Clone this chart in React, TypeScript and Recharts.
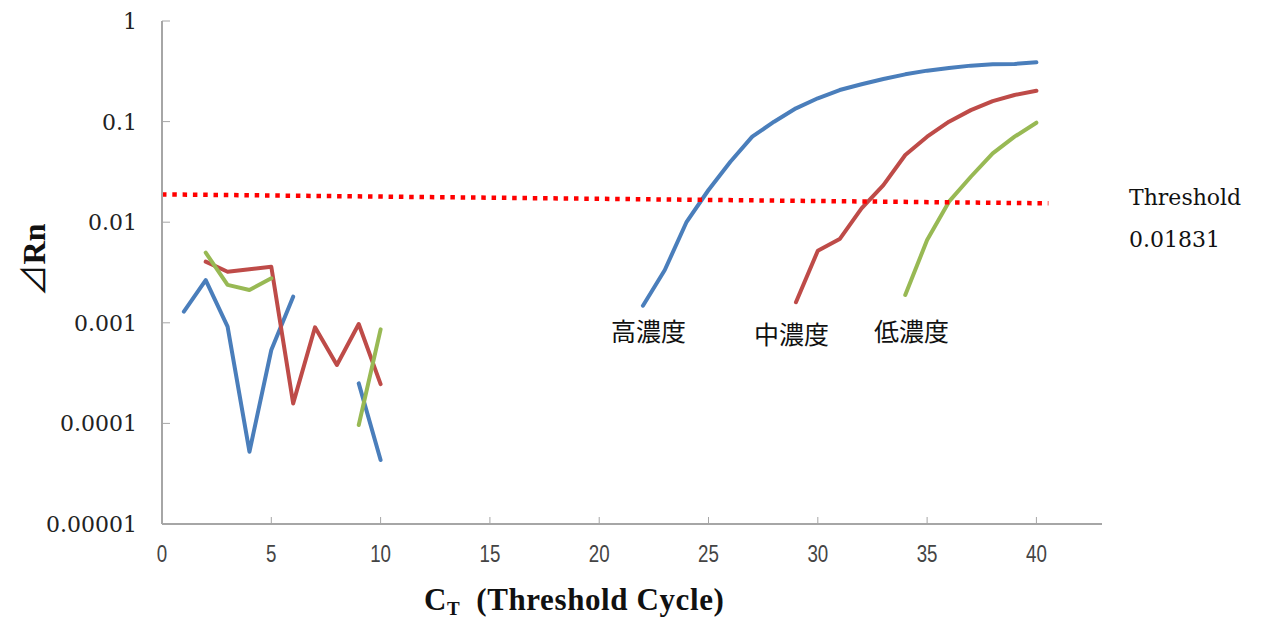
import React from 'react';
import { LineChart, Line, XAxis, YAxis } from 'recharts';

// PCR amplification curves (ΔRn, log scale) for three template concentrations
const cycles = [
    1, 2, 3, 4, 5, 6, 7, 8, 9, 10,
    11, 12, 13, 14, 15, 16, 17, 18, 19, 20,
    21, 22, 23, 24, 25, 26, 27, 28, 29, 30,
    31, 32, 33, 34, 35, 36, 37, 38, 39, 40,
];

const highConc: (number | null)[] = [
    0.00129, 0.00266, 0.000915, 0.0000523, 0.000537, 0.00182, null, null, 0.00025, 0.0000433,
    null, null, null, null, null, null, null, null, null, null,
    null, 0.00148, 0.00335, 0.0101, 0.0209, 0.0399, 0.0708, 0.0998, 0.1355, 0.1705,
    0.206, 0.235, 0.265, 0.295, 0.321, 0.341, 0.36, 0.371, 0.374, 0.388,
];

const midConc: (number | null)[] = [
    null, 0.00405, 0.00322, 0.0034, 0.00361, 0.000158, 0.000902, 0.000381, 0.000973, 0.000246,
    null, null, null, null, null, null, null, null, null, null,
    null, null, null, null, null, null, null, null, 0.0016, 0.0052,
    0.0068, 0.0137, 0.0234, 0.0466, 0.0708, 0.0998, 0.13, 0.16, 0.184, 0.203,
];

const lowConc: (number | null)[] = [
    null, 0.00498, 0.00238, 0.00212, 0.00277, null, null, null, 0.0000964, 0.000861,
    null, null, null, null, null, null, null, null, null, null,
    null, null, null, null, null, null, null, null, null, null,
    null, null, null, 0.00189, 0.00665, 0.016, 0.0283, 0.0484, 0.0708, 0.0975,
];

// threshold line drawn as a slightly sloped dotted segment
const thresholdCycles = [0, 40.55];
const thresholdValues = [0.0189, 0.0154];

const xTicks = [0, 5, 10, 15, 20, 25, 30, 35, 40];
const xTickLabels = ['0', '5', '10', '15', '20', '25', '30', '35', '40'];
const yTicks = [0.00001, 0.0001, 0.001, 0.01, 0.1, 1];
const yTickLabels = ['0.00001', '0.0001', '0.001', '0.01', '0.1', '1'];

const data = cycles.map((c, i) => ({
    cycle: c,
    high: highConc[i],
    mid: midConc[i],
    low: lowConc[i],
}));

const thresholdData = thresholdCycles.map((c, i) => ({ cycle: c, thr: thresholdValues[i] }));

const AXIS_COLOR = '#A6A6A6';
const SERIF = "'DejaVu Serif', 'Liberation Serif', serif";
const CJK = "'Noto Sans CJK JP', sans-serif";

const XTick = (props: any) => {
    const { x, y, index } = props;
    return (
        <g>
            {index > 0 && <line x1={x} y1={y} x2={x} y2={y - 7} stroke={AXIS_COLOR} strokeWidth={1} />}
            {/* narrow digits: squeeze a regular sans horizontally */}
            <text
                transform={`translate(${x},${y + 38}) scale(0.78,1)`}
                textAnchor="middle"
                fontFamily="'Liberation Sans', Arial, sans-serif"
                fontSize={24}
                fill="#444"
            >
                {xTickLabels[index]}
            </text>
        </g>
    );
};

const YTick = (props: any) => {
    const { x, y, index } = props;
    return (
        <g>
            <line x1={x} y1={y} x2={x + 8} y2={y} stroke={AXIS_COLOR} strokeWidth={1} />
            <text
                x={x - 25}
                y={y}
                dy="0.36em"
                textAnchor="end"
                fontFamily={SERIF}
                fontSize={22}
                fill="#222"
            >
                {yTickLabels[index]}
            </text>
        </g>
    );
};

const textStyle: React.CSSProperties = {
    position: 'absolute',
    whiteSpace: 'nowrap',
    color: '#111',
    lineHeight: 1,
};

const seriesStyle = {
    type: 'linear' as const,
    strokeWidth: 4,
    strokeLinecap: 'round' as const,
    strokeLinejoin: 'round' as const,
    dot: false,
    activeDot: false,
    isAnimationActive: false,
};

export default function App() {
    return (
        <div style={{ position: 'relative', width: 1265, height: 617, background: '#fff' }}>
            <style>{'body{margin:0}'}</style>
            <LineChart
                width={1265}
                height={617}
                data={data}
                margin={{ top: 21, right: 163, bottom: 0, left: 0 }}
            >
                <XAxis
                    type="number"
                    dataKey="cycle"
                    domain={[0, 43]}
                    ticks={xTicks}
                    allowDataOverflow
                    height={93}
                    tickSize={0}
                    tickMargin={0}
                    tickLine={false}
                    axisLine={{ stroke: AXIS_COLOR, strokeWidth: 2 }}
                    tick={<XTick />}
                    interval={0}
                />
                <YAxis
                    type="number"
                    scale="log"
                    domain={[0.00001, 1]}
                    ticks={yTicks}
                    allowDataOverflow
                    width={162}
                    tickSize={0}
                    tickMargin={0}
                    tickLine={false}
                    axisLine={{ stroke: AXIS_COLOR, strokeWidth: 2 }}
                    tick={<YTick />}
                    interval={0}
                />
                <Line {...seriesStyle} dataKey="high" stroke="#4A7EBB" />
                <Line {...seriesStyle} dataKey="mid" stroke="#BE4B48" />
                <Line {...seriesStyle} dataKey="low" stroke="#98B954" />
                <Line
                    data={thresholdData}
                    type="linear"
                    dataKey="thr"
                    stroke="#FF0000"
                    strokeWidth={4.5}
                    strokeDasharray="4.5 5.8"
                    dot={false}
                    activeDot={false}
                    isAnimationActive={false}
                />
            </LineChart>

            {/* curve names */}
            <div style={{ ...textStyle, left: 611, top: 318, fontFamily: CJK, fontSize: 25 }}>高濃度</div>
            <div style={{ ...textStyle, left: 754, top: 321, fontFamily: CJK, fontSize: 25 }}>中濃度</div>
            <div style={{ ...textStyle, left: 874, top: 318, fontFamily: CJK, fontSize: 25 }}>低濃度</div>

            {/* threshold annotation */}
            <div style={{ ...textStyle, left: 1129, top: 187, fontFamily: SERIF, fontSize: 22 }}>Threshold</div>
            <div style={{ ...textStyle, left: 1129, top: 229, fontFamily: SERIF, fontSize: 22 }}>0.01831</div>

            {/* axis titles */}
            <div
                style={{
                    ...textStyle,
                    left: 32,
                    top: 260,
                    fontFamily: "'Liberation Serif', serif",
                    fontWeight: 'bold',
                    fontSize: 32,
                    transform: 'translate(-50%, -50%) rotate(-90deg)',
                }}
            >
                <span style={{ fontFamily: CJK, fontWeight: 'normal' }}>⊿</span>Rn
            </div>
            <div
                style={{
                    ...textStyle,
                    left: 424,
                    top: 578,
                    lineHeight: 1.4,
                    fontFamily: "'Liberation Serif', serif",
                    fontWeight: 'bold',
                    fontSize: 31,
                    letterSpacing: 0.6,
                }}
            >
                C<sub style={{ fontSize: 19, verticalAlign: -5, lineHeight: 1 }}>T</sub>
                <span style={{ marginLeft: 16 }}>(Threshold Cycle)</span>
            </div>
        </div>
    );
}
